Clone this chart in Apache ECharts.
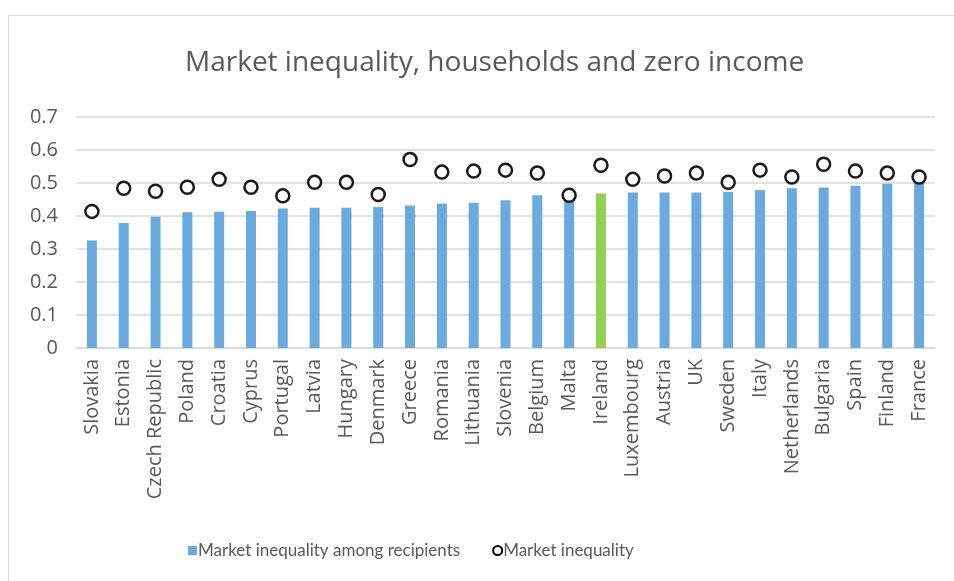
<!DOCTYPE html>
<html lang="en" style="height: 100%">

<head>
  <meta charset="utf-8">
</head>

<body style="height: 100%; margin: 0; background: #fff">
  <div style="position: absolute; left: 8px; top: 15px; width: 960px; height: 600px; border: 1px solid #d9d9d9;"></div>
  <div id="container" style="position: absolute; left: 0; top: 0; width: 954px; height: 581px"></div>

  <script type="text/javascript" src="https://fastly.jsdelivr.net/npm/echarts@6.0.0/dist/echarts.min.js"></script>
  <script type="text/javascript">
    var countries = ['Slovakia', 'Estonia', 'Czech Republic', 'Poland', 'Croatia', 'Cyprus', 'Portugal', 'Latvia',
      'Hungary', 'Denmark', 'Greece', 'Romania', 'Lithuania', 'Slovenia', 'Belgium', 'Malta', 'Ireland',
      'Luxembourg', 'Austria', 'UK', 'Sweden', 'Italy', 'Netherlands', 'Bulgaria', 'Spain', 'Finland', 'France'];
    // market inequality among recipients (bars)
    var recipients = [0.326, 0.379, 0.398, 0.411, 0.413, 0.415, 0.423, 0.425, 0.425, 0.427, 0.432, 0.438, 0.440,
      0.448, 0.463, 0.455, 0.468, 0.471, 0.471, 0.471, 0.473, 0.479, 0.484, 0.486, 0.492, 0.498, 0.502];
    // market inequality (circles)
    var marketIneq = [0.414, 0.484, 0.475, 0.487, 0.511, 0.487, 0.461, 0.502, 0.502, 0.465, 0.571, 0.533, 0.536,
      0.539, 0.530, 0.463, 0.554, 0.511, 0.521, 0.530, 0.502, 0.539, 0.518, 0.557, 0.536, 0.530, 0.518];
    var yTicks = [0, 0.1, 0.2, 0.3, 0.4, 0.5, 0.6, 0.7];

    var dom = document.getElementById('container');
    var myChart = echarts.init(dom, null, { renderer: 'canvas' });

    var textColor = '#595959';
    var font = 'Open Sans';

    var option = {
      animation: false,
      title: {
        text: 'Market inequality, households and zero income',
        left: 180,
        top: 44,
        textStyle: { color: textColor, fontSize: 28, fontWeight: 'normal', fontFamily: font }
      },
      legend: {
        bottom: 17,
        left: 183,
        itemGap: 32,
        itemWidth: 9,
        itemHeight: 9,
        textStyle: { color: textColor, fontSize: 17, fontFamily: 'Lato', padding: [0, 0, 0, -4] },
        data: [
          { name: 'Market inequality among recipients', icon: 'rect' },
          { name: 'Market inequality', icon: 'circle', itemStyle: { color: '#fff', borderColor: '#000', borderWidth: 2 } }
        ]
      },
      grid: {
        left: 76,
        right: 19,
        top: 117,
        bottom: 233
      },
      xAxis: {
        type: 'category',
        data: countries,
        axisLine: { lineStyle: { color: '#d9d9d9', width: 1.5 } },
        axisTick: { show: false },
        axisLabel: { rotate: 90, interval: 0, color: textColor, fontSize: 20, fontFamily: font, margin: 11 }
      },
      yAxis: {
        type: 'value',
        min: yTicks[0],
        max: yTicks[yTicks.length - 1],
        interval: 0.1,
        axisLine: { show: false },
        axisTick: { show: false },
        axisLabel: { color: textColor, fontSize: 20, fontFamily: font, margin: 18 },
        splitLine: { lineStyle: { color: '#d9d9d9', width: 1.5 } }
      },
      series: [
        {
          name: 'Market inequality among recipients',
          type: 'bar',
          barWidth: 10,
          itemStyle: { color: '#6aaadc' },
          data: recipients.map(function (v, i) {
            return countries[i] === 'Ireland' ? { value: v, itemStyle: { color: '#92d050' } } : v;
          })
        },
        {
          name: 'Market inequality',
          type: 'scatter',
          symbol: 'circle',
          symbolSize: 13,
          itemStyle: { color: '#fff', borderColor: '#1a1a1a', borderWidth: 2.5, opacity: 1 },
          data: marketIneq
        }
      ]
    };

    myChart.setOption(option);
    window.addEventListener('resize', myChart.resize);
  </script>
</body>

</html>
